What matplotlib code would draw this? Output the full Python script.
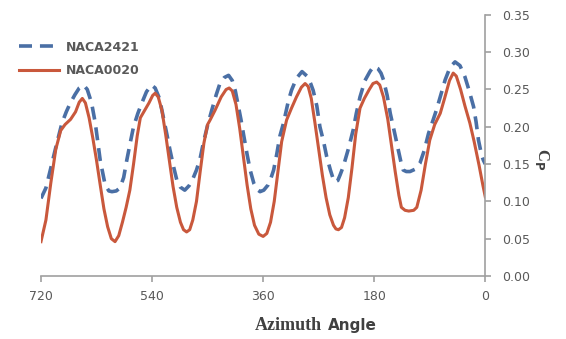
"""
Power coefficient of two blade profiles against azimuth angle
"""
import matplotlib.pyplot as plt

# NACA2421 (dashed blue)
ANGLE_2421 = [720, 712, 704, 697, 690, 686, 679, 673, 665, 658, 651, 645, 638,
              632, 624, 616, 610, 605, 598, 592, 586, 581, 575, 570, 563, 557,
              549, 541, 535, 528, 522, 516, 511, 505, 500, 494, 487, 480, 474,
              468, 462, 457, 450, 443, 436, 430, 423, 416, 410, 405, 400, 396,
              392, 386, 381, 375, 370, 365, 359, 352, 347, 343, 338, 333, 327,
              319, 314, 306, 297, 289, 283, 279, 273, 268, 262, 257, 251, 246,
              244, 239, 235, 230, 222, 214, 209, 203, 195, 187, 181, 174, 169,
              165, 159, 154, 147, 141, 137, 133, 128, 122, 114, 106, 99, 92, 85,
              79, 72, 65, 57, 49, 41, 33, 26, 19, 15, 11, 6, 3, 0]
CP_2421 = [0.104, 0.118, 0.145, 0.169, 0.192, 0.205, 0.220, 0.231, 0.243, 0.252,
           0.256, 0.250, 0.232, 0.205, 0.155, 0.122, 0.114, 0.113, 0.114, 0.118,
           0.132, 0.155, 0.180, 0.200, 0.218, 0.231, 0.247, 0.256, 0.252, 0.238,
           0.214, 0.190, 0.169, 0.146, 0.129, 0.119, 0.115, 0.121, 0.130, 0.142,
           0.158, 0.178, 0.202, 0.223, 0.243, 0.258, 0.266, 0.269, 0.262, 0.248,
           0.227, 0.210, 0.191, 0.163, 0.142, 0.124, 0.116, 0.113, 0.115, 0.122,
           0.132, 0.142, 0.163, 0.187, 0.205, 0.235, 0.249, 0.265, 0.274, 0.268,
           0.258, 0.249, 0.228, 0.200, 0.180, 0.160, 0.142, 0.129, 0.126, 0.128,
           0.136, 0.147, 0.170, 0.196, 0.218, 0.240, 0.262, 0.274, 0.281, 0.278,
           0.272, 0.263, 0.242, 0.218, 0.192, 0.169, 0.154, 0.142, 0.140, 0.140,
           0.143, 0.151, 0.168, 0.191, 0.208, 0.223, 0.243, 0.263, 0.280, 0.287,
           0.282, 0.267, 0.248, 0.227, 0.207, 0.182, 0.162, 0.155, 0.150]

# NACA0020 (solid orange)
ANGLE_0020 = [720, 712, 704, 696, 688, 681, 672, 664, 658, 653, 648, 642, 636,
              630, 624, 618, 612, 606, 600, 594, 588, 582, 576, 570, 564, 559,
              552, 545, 539, 535, 530, 524, 518, 512, 506, 500, 494, 489, 484,
              479, 474, 468, 462, 456, 450, 446, 438, 428, 420, 415, 410, 404,
              398, 392, 386, 380, 374, 367, 360, 354, 348, 342, 336, 330, 322,
              314, 306, 298, 292, 287, 282, 276, 270, 264, 258, 252, 246, 242,
              238, 233, 228, 222, 216, 210, 203, 196, 188, 182, 176, 171, 165,
              158, 152, 146, 140, 136, 130, 124, 116, 111, 104, 97, 90, 82, 73,
              66, 58, 52, 47, 40, 33, 25, 18, 10, 4, 0]
CP_0020 = [0.046, 0.075, 0.125, 0.170, 0.195, 0.203, 0.210, 0.220, 0.233, 0.238,
           0.232, 0.212, 0.185, 0.155, 0.122, 0.090, 0.066, 0.050, 0.046, 0.054,
           0.072, 0.092, 0.115, 0.150, 0.188, 0.212, 0.222, 0.232, 0.242, 0.245,
           0.240, 0.222, 0.190, 0.155, 0.120, 0.092, 0.072, 0.062, 0.059, 0.062,
           0.075, 0.100, 0.140, 0.178, 0.203, 0.209, 0.222, 0.240, 0.250, 0.252,
           0.248, 0.230, 0.198, 0.160, 0.122, 0.090, 0.068, 0.056, 0.053, 0.057,
           0.072, 0.100, 0.140, 0.180, 0.209, 0.225, 0.240, 0.253, 0.258, 0.254,
           0.238, 0.205, 0.170, 0.135, 0.105, 0.082, 0.068, 0.063, 0.062, 0.065,
           0.078, 0.105, 0.145, 0.190, 0.225, 0.238, 0.250, 0.258, 0.260, 0.256,
           0.240, 0.210, 0.175, 0.140, 0.108, 0.092, 0.088, 0.087, 0.088, 0.092,
           0.115, 0.150, 0.182, 0.203, 0.218, 0.238, 0.262, 0.272, 0.268, 0.250,
           0.228, 0.205, 0.180, 0.148, 0.122, 0.106]

X_TICKS = [720, 540, 360, 180, 0]
Y_TICKS = [0.00, 0.05, 0.10, 0.15, 0.20, 0.25, 0.30, 0.35]

BLUE = '#4a6fa5'
ORANGE = '#c9583c'
GREY = '#595959'

fig = plt.figure(figsize=(5.66, 3.39), dpi=100)
ax = fig.add_axes([0.0724, 0.186, 0.785, 0.770])

ax.plot(ANGLE_2421, CP_2421, color=BLUE, lw=2.6, dashes=(3.6, 2.2),
        label='NACA2421', solid_joinstyle='round')
ax.plot(ANGLE_0020, CP_0020, color=ORANGE, lw=2.2, label='NACA0020',
        solid_joinstyle='round')

ax.set_xlim(720, 0)
ax.set_ylim(0, 0.35)
ax.set_xticks(X_TICKS)
ax.set_xticklabels([str(t) for t in X_TICKS])
ax.set_yticks(Y_TICKS)
ax.set_yticklabels(['%.2f' % t for t in Y_TICKS])
ax.yaxis.tick_right()

# axes look like the spreadsheet original: grey lines, y axis on the right
for side in ['left', 'top']:
    ax.spines[side].set_visible(False)
for side in ['right', 'bottom']:
    ax.spines[side].set_color('#a0a0a0')
    ax.spines[side].set_linewidth(1.2)
ax.tick_params(axis='both', colors='#a0a0a0', labelcolor=GREY, labelsize=9,
               length=4, width=1.2, direction='out')
ax.tick_params(axis='y', pad=8)
ax.tick_params(axis='x', pad=6)

leg = ax.legend(loc='upper left', bbox_to_anchor=(0.025, 0.895),
                bbox_transform=fig.transFigure, frameon=False, fontsize=9,
                handlelength=3.2, handletextpad=0.5, labelspacing=0.85,
                borderaxespad=0)
for txt in leg.get_texts():
    txt.set_color(GREY)
    txt.set_fontweight('bold')

# axis titles
fig.text(0.569, 0.041, 'Azimuth', ha='right', va='center', fontsize=13,
         fontweight='bold', family='Liberation Serif', color='#404040')
fig.text(0.579, 0.041, 'Angle', ha='left', va='center', fontsize=11,
         fontweight='bold', color='#404040')
fig.text(0.958, 0.53, r'C$_\mathbf{P}$', rotation=-90, ha='center',
         va='center', fontsize=12, fontweight='bold',
         family='Liberation Serif', color='#404040')

fig.savefig('out.png', dpi=100)
